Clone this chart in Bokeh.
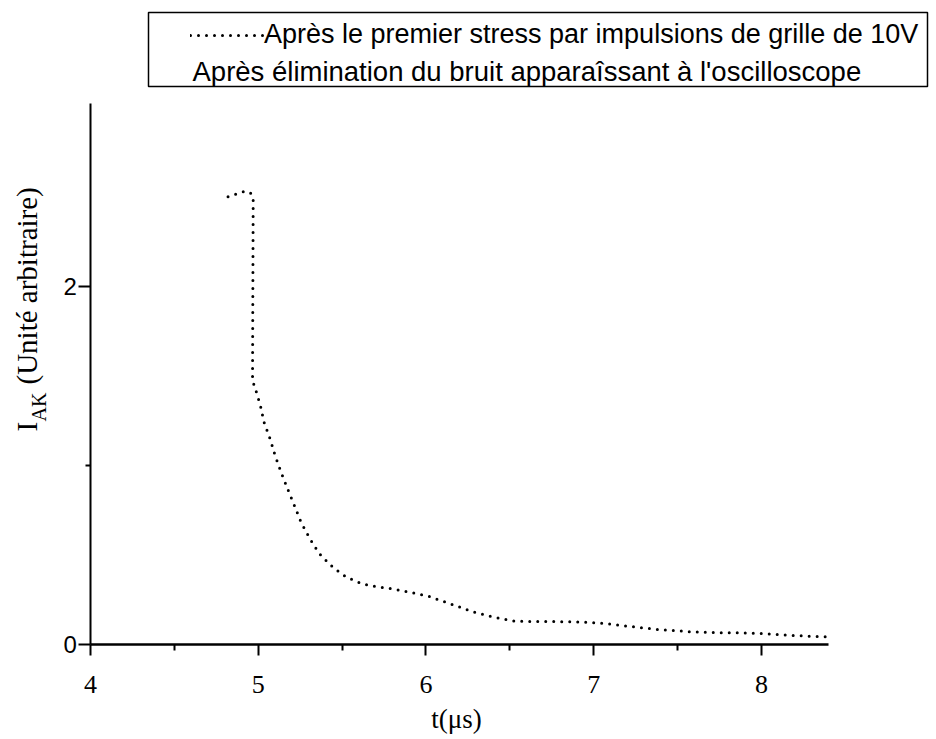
import math
from bokeh.plotting import figure
from bokeh.models import (Range1d, FixedTicker, Label, Legend, LegendItem,
                          BoxAnnotation)
from bokeh.embed import file_html
from bokeh.resources import INLINE

# ---------------- data ----------------
t_us = [4.82, 4.91, 4.95, 4.97, 4.966, 4.984, 5.013, 5.035, 5.071, 5.101,
        5.137, 5.176, 5.216, 5.256, 5.310, 5.363, 5.429, 5.500, 5.578, 5.661,
        5.754, 5.846, 5.933, 6.019, 6.106, 6.194, 6.273, 6.359, 6.448, 6.535,
        6.623, 6.722, 6.829, 6.929, 7.024, 7.116, 7.207, 7.301, 7.394, 7.487,
        7.583, 7.676, 7.772, 7.869, 7.964, 8.058, 8.149, 8.243, 8.338, 8.383]
i_ak = [2.50, 2.528, 2.525, 2.50, 1.473, 1.425, 1.334, 1.240, 1.147, 1.054,
        0.960, 0.867, 0.775, 0.681, 0.588, 0.509, 0.445, 0.391, 0.353, 0.329,
        0.317, 0.303, 0.286, 0.268, 0.240, 0.211, 0.184, 0.163, 0.144, 0.130,
        0.128, 0.129, 0.127, 0.126, 0.120, 0.112, 0.102, 0.092, 0.083, 0.077,
        0.071, 0.068, 0.066, 0.065, 0.063, 0.058, 0.052, 0.048, 0.045, 0.043]

x_major_ticks = [4, 5, 6, 7, 8]
x_minor_ticks = [4.5, 5.5, 6.5, 7.5]
y_major_ticks = [0, 2]
y_minor_ticks = [1]
x_axis_span = (4, 8.40)
y_axis_span = (0, 3.02)

legend_line1 = "Après le premier stress par impulsions de grille de 10V"
legend_line2 = "Après élimination du bruit apparaîssant à l'oscilloscope"
x_label = "t(μs)"
y_label_main = "I"
y_label_sub = "AK"
y_label_rest = "(Unité arbitraire)"

SANS = "Liberation Sans"
SERIF = "Liberation Serif"

# ---------------- geometry (pixels) ----------------
W, H = 936, 739
AX_X0_PX, AX_X1_PX = 90, 828    # canvas x of t=4 and t=8.4
AX_Y0_PX, AX_Y1_PX = 644, 103   # canvas y of I=0 and I=3.02
ppx = (AX_X1_PX - AX_X0_PX) / (x_axis_span[1] - x_axis_span[0])
ppy = (AX_Y0_PX - AX_Y1_PX) / (y_axis_span[1] - y_axis_span[0])
x_lo = x_axis_span[0] - AX_X0_PX / ppx
x_hi = x_axis_span[0] + (W - AX_X0_PX) / ppx
y_lo = y_axis_span[0] - (H - AX_Y0_PX) / ppy
y_hi = y_axis_span[0] + AX_Y0_PX / ppy


def sy(canvas_y):
    """canvas y (from top) -> screen units (from frame bottom)"""
    return H - canvas_y


DOT = dict(line_color="black", line_width=3, line_dash="0 8", line_cap="round")

p = figure(width=W, height=H, output_backend="svg", toolbar_location=None,
           x_range=Range1d(x_lo, x_hi), y_range=Range1d(y_lo, y_hi),
           x_axis_location="above", y_axis_location="right",
           min_border_left=0, min_border_right=0, min_border_top=0,
           min_border_bottom=0)
p.grid.visible = False
p.outline_line_color = None
p.background_fill_color = "white"
p.border_fill_color = "white"

curve = p.line(t_us, i_ak, **DOT)

# ---- x axis (fixed at I=0, ticks and labels below it) ----
xa = p.xaxis[0]
xa.fixed_location = y_axis_span[0]
xa.bounds = x_axis_span
xa.ticker = FixedTicker(ticks=x_major_ticks, minor_ticks=x_minor_ticks)
xa.axis_line_width = 2.5
xa.major_tick_line_width = 2
xa.minor_tick_line_width = 2
xa.major_tick_in = 11
xa.major_tick_out = 0
xa.minor_tick_in = 6
xa.minor_tick_out = 0
xa.major_label_standoff = -48
xa.major_label_text_font = SERIF
xa.major_label_text_font_size = "26px"
xa.major_label_text_color = "black"

# ---- y axis (fixed at t=4, ticks and labels left of it) ----
ya = p.yaxis[0]
ya.fixed_location = x_axis_span[0]
ya.bounds = y_axis_span
ya.ticker = FixedTicker(ticks=y_major_ticks, minor_ticks=y_minor_ticks)
ya.axis_line_width = 2
ya.major_tick_line_width = 2
ya.minor_tick_line_width = 2
ya.major_tick_in = 12
ya.major_tick_out = 0
ya.minor_tick_in = 5
ya.minor_tick_out = 0
ya.major_label_standoff = -27
ya.major_label_text_font = SANS
ya.major_label_text_font_size = "24px"
ya.major_label_text_color = "black"

# ---- x axis title ----
p.add_layout(Label(x=456, y=sy(718), x_units="screen", y_units="screen",
                   text=x_label, text_align="center", text_baseline="middle",
                   text_font=SERIF, text_font_size="27px", text_color="black"))

# ---- legend box ----
p.add_layout(BoxAnnotation(left=148, right=927, top=sy(12), bottom=sy(86),
                           left_units="screen", right_units="screen",
                           top_units="screen", bottom_units="screen",
                           fill_color=None, fill_alpha=0,
                           line_color="black", line_alpha=1, line_width=1.5))
leg = Legend(items=[LegendItem(label=legend_line1, renderers=[curve])],
             location=(190, sy(50)), padding=0, margin=0, spacing=0,
             glyph_width=74, glyph_height=20, label_standoff=0,
             label_text_font=SANS, label_text_font_size="27px",
             label_text_color="black",
             border_line_alpha=0, background_fill_alpha=0)
p.add_layout(leg, "center")
p.add_layout(Label(x=192, y=sy(71), x_units="screen", y_units="screen",
                   text=legend_line2, text_baseline="middle", text_align="left",
                   text_font=SANS, text_font_size="27.5px", text_color="black"))

# ---- rotated y label with subscript ----
ANG = math.pi / 2
p.add_layout(Label(x=26, y=sy(431), x_units="screen", y_units="screen", angle=ANG,
                   text=y_label_main, text_font=SERIF, text_font_size="29px",
                   text_align="left", text_baseline="middle", text_color="black"))
p.add_layout(Label(x=38, y=sy(421), x_units="screen", y_units="screen", angle=ANG,
                   text=y_label_sub, text_font=SERIF, text_font_size="20px",
                   text_align="left", text_baseline="middle", text_color="black"))
p.add_layout(Label(x=26, y=sy(384), x_units="screen", y_units="screen", angle=ANG,
                   text=y_label_rest, text_font=SERIF, text_font_size="29px",
                   text_align="left", text_baseline="middle", text_color="black"))

open("out.html", "w").write(file_html(p, INLINE))
